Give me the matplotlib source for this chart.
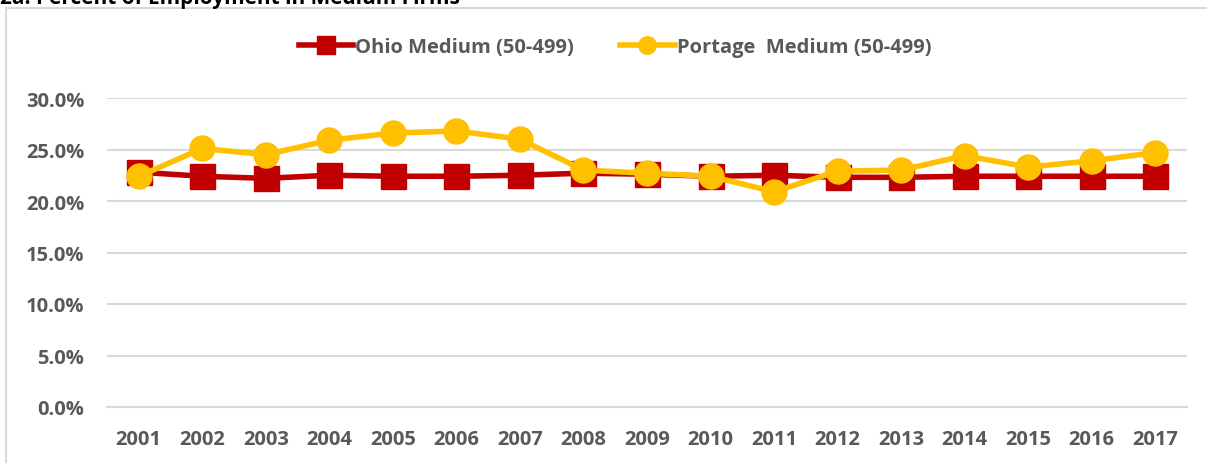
import matplotlib
matplotlib.use("Agg")
import matplotlib.pyplot as plt
from matplotlib.patches import Rectangle
from matplotlib.ticker import FuncFormatter, MultipleLocator

years = ["2001", "2002", "2003", "2004", "2005", "2006", "2007", "2008", "2009",
         "2010", "2011", "2012", "2013", "2014", "2015", "2016", "2017"]
ohio = [22.8, 22.4, 22.2, 22.5, 22.4, 22.4, 22.5, 22.7, 22.6,
        22.4, 22.5, 22.3, 22.3, 22.4, 22.4, 22.4, 22.4]
portage = [22.4, 25.1, 24.5, 25.9, 26.6, 26.8, 26.0, 23.0, 22.7,
           22.4, 20.9, 22.9, 23.0, 24.4, 23.3, 23.9, 24.7]
series_names = ["Ohio Medium (50-499)", "Portage  Medium (50-499)"]
title = "2a. Percent of Employment in Medium Firms"

plt.rcParams['font.family'] = ['Open Sans', 'DejaVu Sans']
txt = "#595959"

fig = plt.figure(figsize=(12.07, 4.64), dpi=100)
W, H = 1207, 464

# outer chart border
fig.patches.append(Rectangle((6 / W, -0.01), 1.2, 1 - 9 / H + 0.01, transform=fig.transFigure,
                             fill=False, edgecolor="#D9D9D9", linewidth=1.5))
# title (cut off at the top edge, as in the reference)
fig.text(0 / W, 1 - 4 / H, title, fontsize=15, fontweight="bold", color="black",
         ha="left", va="baseline")

ax = fig.add_axes([107 / W, 1 - 408 / H, (1187 - 107) / W, (408 - 99) / H])
x = list(range(len(years)))
ax.plot(x, ohio, color="#C00000", linewidth=4, marker="s", markersize=18,
        label=series_names[0], zorder=3)
ax.plot(x, portage, color="#FFC000", linewidth=4, marker="o", markersize=18,
        label=series_names[1], zorder=4)

ax.set_xlim(-0.5, len(years) - 0.5)
ax.set_ylim(0, 30)
ax.yaxis.set_major_locator(MultipleLocator(5))
ax.yaxis.set_major_formatter(FuncFormatter(lambda v, p: f"{v:.1f}%"))
ax.set_xticks(x)
ax.set_xticklabels(years)
ax.grid(axis="y", color="#D9D9D9", linewidth=1.5)
ax.set_axisbelow(True)
for s in ax.spines.values():
    s.set_visible(False)
ax.spines["bottom"].set_visible(True)
ax.spines["bottom"].set_color("#D9D9D9")
ax.spines["bottom"].set_linewidth(1.5)
ax.tick_params(length=0, colors=txt, labelsize=14.5)
ax.tick_params(axis="x", pad=16)
ax.tick_params(axis="y", pad=16.5)
for lab in ax.get_xticklabels() + ax.get_yticklabels():
    lab.set_fontweight("bold")
for ln in ax.lines:
    ln.set_clip_on(False)

leg = fig.legend(loc="center", bbox_to_anchor=(615 / W, 1 - 48 / H), ncol=2, frameon=False,
                 fontsize=14.5, handlelength=2.7, columnspacing=2.3, handletextpad=0.1,
                 markerscale=0.7)
for t in leg.get_texts():
    t.set_color(txt)
    t.set_fontweight("bold")

fig.savefig("out.png", dpi=100)
